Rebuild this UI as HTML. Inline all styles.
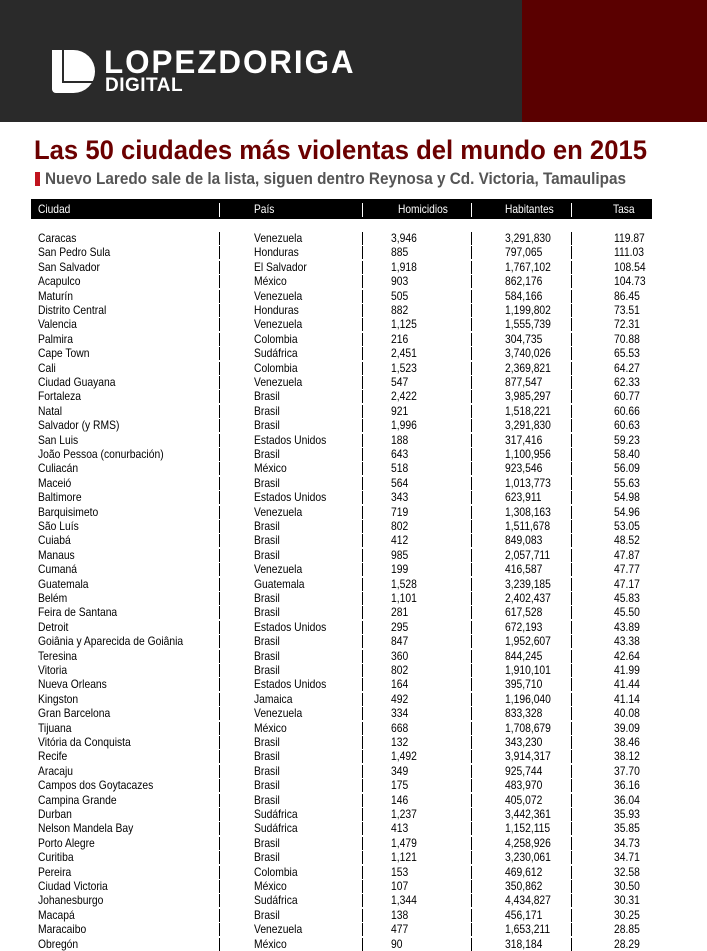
<!DOCTYPE html>
<html><head><meta charset="utf-8">
<style>
*{margin:0;padding:0;box-sizing:border-box}
body{width:707px;height:951px;background:#fff;position:relative;overflow:hidden;font-family:"Liberation Sans",sans-serif}
.hdr{position:absolute;left:0;top:0;width:707px;height:122px;background:#2a2a2a}
.mar{position:absolute;left:522px;top:0;width:185px;height:122px;background:#5a0000}
.logo{position:absolute;left:52px;top:50px;width:43px;height:43px;background:#fff;border-radius:0 22px 22px 4px}
.logo i{position:absolute;left:10px;top:0;width:2px;height:33px;background:#2a2a2a}
.logo b{position:absolute;left:10px;top:31px;width:33px;height:2px;background:#2a2a2a}
.brand{position:absolute;left:104px;top:44px;color:#fff;font-weight:bold;font-size:32px;letter-spacing:2px;transform:scaleX(0.98);transform-origin:left}
.digital{position:absolute;left:105px;top:75px;color:#fff;font-weight:bold;font-size:19px;letter-spacing:.5px}
.title{position:absolute;left:34px;top:135px;color:#6b0000;font-weight:bold;font-size:27px;white-space:nowrap;transform:scaleX(0.95);transform-origin:left}
.sub{position:absolute;left:45px;top:169px;color:#555;font-weight:bold;font-size:17px;white-space:nowrap;transform:scaleX(0.90);transform-origin:left}
.red{position:absolute;left:35px;top:172px;width:5px;height:14px;background:#c0141e}
.th{position:absolute;left:31px;top:199px;width:621px;height:20px;background:#000}
.th span{position:absolute;top:3px;color:#fff;font-size:12px;white-space:nowrap;transform:scaleX(0.85);transform-origin:left}
.th i{position:absolute;top:4px;width:1px;height:14px;background:#fff}
.r{position:absolute;left:0;width:707px;height:14px;font-size:12px;color:#000}
.r span{position:absolute;top:0;white-space:nowrap;transform:scaleX(0.86);transform-origin:left;line-height:14px}
.r i{position:absolute;top:1px;width:1px;height:13px;background:#000}
.a{left:38px}.b{left:254px}.c{left:391px}.d{left:505px}.e{left:614px}
.s1{left:219px}.s2{left:362px}.s3{left:471px}.s4{left:571px}
</style></head><body>
<div class="hdr"></div><div class="mar"></div>
<div class="logo"><i></i><b></b></div>
<div class="brand">LOPEZDORIGA</div>
<div class="digital">DIGITAL</div>
<div class="title">Las 50 ciudades más violentas del mundo en 2015</div>
<div class="red"></div>
<div class="sub">Nuevo Laredo sale de la lista, siguen dentro Reynosa y Cd. Victoria, Tamaulipas</div>
<div class="th"><span style="left:7px">Ciudad</span><i style="left:188px"></i><span style="left:223px">País</span><i style="left:331px"></i><span style="left:367px">Homicidios</span><i style="left:440px"></i><span style="left:474px">Habitantes</span><i style="left:540px"></i><span style="left:582px">Tasa</span></div>

<div class="r" style="top:231px"><span class="a">Caracas</span><i class="s1"></i><span class="b">Venezuela</span><i class="s2"></i><span class="c">3,946</span><i class="s3"></i><span class="d">3,291,830</span><i class="s4"></i><span class="e">119.87</span></div>
<div class="r" style="top:245.4px"><span class="a">San Pedro Sula</span><i class="s1"></i><span class="b">Honduras</span><i class="s2"></i><span class="c">885</span><i class="s3"></i><span class="d">797,065</span><i class="s4"></i><span class="e">111.03</span></div>
<div class="r" style="top:259.8px"><span class="a">San Salvador</span><i class="s1"></i><span class="b">El Salvador</span><i class="s2"></i><span class="c">1,918</span><i class="s3"></i><span class="d">1,767,102</span><i class="s4"></i><span class="e">108.54</span></div>
<div class="r" style="top:274.2px"><span class="a">Acapulco</span><i class="s1"></i><span class="b">México</span><i class="s2"></i><span class="c">903</span><i class="s3"></i><span class="d">862,176</span><i class="s4"></i><span class="e">104.73</span></div>
<div class="r" style="top:288.6px"><span class="a">Maturín</span><i class="s1"></i><span class="b">Venezuela</span><i class="s2"></i><span class="c">505</span><i class="s3"></i><span class="d">584,166</span><i class="s4"></i><span class="e">86.45</span></div>
<div class="r" style="top:303px"><span class="a">Distrito Central</span><i class="s1"></i><span class="b">Honduras</span><i class="s2"></i><span class="c">882</span><i class="s3"></i><span class="d">1,199,802</span><i class="s4"></i><span class="e">73.51</span></div>
<div class="r" style="top:317.4px"><span class="a">Valencia</span><i class="s1"></i><span class="b">Venezuela</span><i class="s2"></i><span class="c">1,125</span><i class="s3"></i><span class="d">1,555,739</span><i class="s4"></i><span class="e">72.31</span></div>
<div class="r" style="top:331.8px"><span class="a">Palmira</span><i class="s1"></i><span class="b">Colombia</span><i class="s2"></i><span class="c">216</span><i class="s3"></i><span class="d">304,735</span><i class="s4"></i><span class="e">70.88</span></div>
<div class="r" style="top:346.2px"><span class="a">Cape Town</span><i class="s1"></i><span class="b">Sudáfrica</span><i class="s2"></i><span class="c">2,451</span><i class="s3"></i><span class="d">3,740,026</span><i class="s4"></i><span class="e">65.53</span></div>
<div class="r" style="top:360.6px"><span class="a">Cali</span><i class="s1"></i><span class="b">Colombia</span><i class="s2"></i><span class="c">1,523</span><i class="s3"></i><span class="d">2,369,821</span><i class="s4"></i><span class="e">64.27</span></div>
<div class="r" style="top:375px"><span class="a">Ciudad Guayana</span><i class="s1"></i><span class="b">Venezuela</span><i class="s2"></i><span class="c">547</span><i class="s3"></i><span class="d">877,547</span><i class="s4"></i><span class="e">62.33</span></div>
<div class="r" style="top:389.4px"><span class="a">Fortaleza</span><i class="s1"></i><span class="b">Brasil</span><i class="s2"></i><span class="c">2,422</span><i class="s3"></i><span class="d">3,985,297</span><i class="s4"></i><span class="e">60.77</span></div>
<div class="r" style="top:403.8px"><span class="a">Natal</span><i class="s1"></i><span class="b">Brasil</span><i class="s2"></i><span class="c">921</span><i class="s3"></i><span class="d">1,518,221</span><i class="s4"></i><span class="e">60.66</span></div>
<div class="r" style="top:418.2px"><span class="a">Salvador (y RMS)</span><i class="s1"></i><span class="b">Brasil</span><i class="s2"></i><span class="c">1,996</span><i class="s3"></i><span class="d">3,291,830</span><i class="s4"></i><span class="e">60.63</span></div>
<div class="r" style="top:432.6px"><span class="a">San Luis</span><i class="s1"></i><span class="b">Estados Unidos</span><i class="s2"></i><span class="c">188</span><i class="s3"></i><span class="d">317,416</span><i class="s4"></i><span class="e">59.23</span></div>
<div class="r" style="top:447px"><span class="a">João Pessoa (conurbación)</span><i class="s1"></i><span class="b">Brasil</span><i class="s2"></i><span class="c">643</span><i class="s3"></i><span class="d">1,100,956</span><i class="s4"></i><span class="e">58.40</span></div>
<div class="r" style="top:461.4px"><span class="a">Culiacán</span><i class="s1"></i><span class="b">México</span><i class="s2"></i><span class="c">518</span><i class="s3"></i><span class="d">923,546</span><i class="s4"></i><span class="e">56.09</span></div>
<div class="r" style="top:475.8px"><span class="a">Maceió</span><i class="s1"></i><span class="b">Brasil</span><i class="s2"></i><span class="c">564</span><i class="s3"></i><span class="d">1,013,773</span><i class="s4"></i><span class="e">55.63</span></div>
<div class="r" style="top:490.2px"><span class="a">Baltimore</span><i class="s1"></i><span class="b">Estados Unidos</span><i class="s2"></i><span class="c">343</span><i class="s3"></i><span class="d">623,911</span><i class="s4"></i><span class="e">54.98</span></div>
<div class="r" style="top:504.6px"><span class="a">Barquisimeto</span><i class="s1"></i><span class="b">Venezuela</span><i class="s2"></i><span class="c">719</span><i class="s3"></i><span class="d">1,308,163</span><i class="s4"></i><span class="e">54.96</span></div>
<div class="r" style="top:519px"><span class="a">São Luís</span><i class="s1"></i><span class="b">Brasil</span><i class="s2"></i><span class="c">802</span><i class="s3"></i><span class="d">1,511,678</span><i class="s4"></i><span class="e">53.05</span></div>
<div class="r" style="top:533.4px"><span class="a">Cuiabá</span><i class="s1"></i><span class="b">Brasil</span><i class="s2"></i><span class="c">412</span><i class="s3"></i><span class="d">849,083</span><i class="s4"></i><span class="e">48.52</span></div>
<div class="r" style="top:547.8px"><span class="a">Manaus</span><i class="s1"></i><span class="b">Brasil</span><i class="s2"></i><span class="c">985</span><i class="s3"></i><span class="d">2,057,711</span><i class="s4"></i><span class="e">47.87</span></div>
<div class="r" style="top:562.2px"><span class="a">Cumaná</span><i class="s1"></i><span class="b">Venezuela</span><i class="s2"></i><span class="c">199</span><i class="s3"></i><span class="d">416,587</span><i class="s4"></i><span class="e">47.77</span></div>
<div class="r" style="top:576.6px"><span class="a">Guatemala</span><i class="s1"></i><span class="b">Guatemala</span><i class="s2"></i><span class="c">1,528</span><i class="s3"></i><span class="d">3,239,185</span><i class="s4"></i><span class="e">47.17</span></div>
<div class="r" style="top:591px"><span class="a">Belém</span><i class="s1"></i><span class="b">Brasil</span><i class="s2"></i><span class="c">1,101</span><i class="s3"></i><span class="d">2,402,437</span><i class="s4"></i><span class="e">45.83</span></div>
<div class="r" style="top:605.4px"><span class="a">Feira de Santana</span><i class="s1"></i><span class="b">Brasil</span><i class="s2"></i><span class="c">281</span><i class="s3"></i><span class="d">617,528</span><i class="s4"></i><span class="e">45.50</span></div>
<div class="r" style="top:619.8px"><span class="a">Detroit</span><i class="s1"></i><span class="b">Estados Unidos</span><i class="s2"></i><span class="c">295</span><i class="s3"></i><span class="d">672,193</span><i class="s4"></i><span class="e">43.89</span></div>
<div class="r" style="top:634.2px"><span class="a">Goiânia y Aparecida de Goiânia</span><i class="s1"></i><span class="b">Brasil</span><i class="s2"></i><span class="c">847</span><i class="s3"></i><span class="d">1,952,607</span><i class="s4"></i><span class="e">43.38</span></div>
<div class="r" style="top:648.6px"><span class="a">Teresina</span><i class="s1"></i><span class="b">Brasil</span><i class="s2"></i><span class="c">360</span><i class="s3"></i><span class="d">844,245</span><i class="s4"></i><span class="e">42.64</span></div>
<div class="r" style="top:663px"><span class="a">Vitoria</span><i class="s1"></i><span class="b">Brasil</span><i class="s2"></i><span class="c">802</span><i class="s3"></i><span class="d">1,910,101</span><i class="s4"></i><span class="e">41.99</span></div>
<div class="r" style="top:677.4px"><span class="a">Nueva Orleans</span><i class="s1"></i><span class="b">Estados Unidos</span><i class="s2"></i><span class="c">164</span><i class="s3"></i><span class="d">395,710</span><i class="s4"></i><span class="e">41.44</span></div>
<div class="r" style="top:691.8px"><span class="a">Kingston</span><i class="s1"></i><span class="b">Jamaica</span><i class="s2"></i><span class="c">492</span><i class="s3"></i><span class="d">1,196,040</span><i class="s4"></i><span class="e">41.14</span></div>
<div class="r" style="top:706.2px"><span class="a">Gran Barcelona</span><i class="s1"></i><span class="b">Venezuela</span><i class="s2"></i><span class="c">334</span><i class="s3"></i><span class="d">833,328</span><i class="s4"></i><span class="e">40.08</span></div>
<div class="r" style="top:720.6px"><span class="a">Tijuana</span><i class="s1"></i><span class="b">México</span><i class="s2"></i><span class="c">668</span><i class="s3"></i><span class="d">1,708,679</span><i class="s4"></i><span class="e">39.09</span></div>
<div class="r" style="top:735px"><span class="a">Vitória da Conquista</span><i class="s1"></i><span class="b">Brasil</span><i class="s2"></i><span class="c">132</span><i class="s3"></i><span class="d">343,230</span><i class="s4"></i><span class="e">38.46</span></div>
<div class="r" style="top:749.4px"><span class="a">Recife</span><i class="s1"></i><span class="b">Brasil</span><i class="s2"></i><span class="c">1,492</span><i class="s3"></i><span class="d">3,914,317</span><i class="s4"></i><span class="e">38.12</span></div>
<div class="r" style="top:763.8px"><span class="a">Aracaju</span><i class="s1"></i><span class="b">Brasil</span><i class="s2"></i><span class="c">349</span><i class="s3"></i><span class="d">925,744</span><i class="s4"></i><span class="e">37.70</span></div>
<div class="r" style="top:778.2px"><span class="a">Campos dos Goytacazes</span><i class="s1"></i><span class="b">Brasil</span><i class="s2"></i><span class="c">175</span><i class="s3"></i><span class="d">483,970</span><i class="s4"></i><span class="e">36.16</span></div>
<div class="r" style="top:792.6px"><span class="a">Campina Grande</span><i class="s1"></i><span class="b">Brasil</span><i class="s2"></i><span class="c">146</span><i class="s3"></i><span class="d">405,072</span><i class="s4"></i><span class="e">36.04</span></div>
<div class="r" style="top:807px"><span class="a">Durban</span><i class="s1"></i><span class="b">Sudáfrica</span><i class="s2"></i><span class="c">1,237</span><i class="s3"></i><span class="d">3,442,361</span><i class="s4"></i><span class="e">35.93</span></div>
<div class="r" style="top:821.4px"><span class="a">Nelson Mandela Bay</span><i class="s1"></i><span class="b">Sudáfrica</span><i class="s2"></i><span class="c">413</span><i class="s3"></i><span class="d">1,152,115</span><i class="s4"></i><span class="e">35.85</span></div>
<div class="r" style="top:835.8px"><span class="a">Porto Alegre</span><i class="s1"></i><span class="b">Brasil</span><i class="s2"></i><span class="c">1,479</span><i class="s3"></i><span class="d">4,258,926</span><i class="s4"></i><span class="e">34.73</span></div>
<div class="r" style="top:850.2px"><span class="a">Curitiba</span><i class="s1"></i><span class="b">Brasil</span><i class="s2"></i><span class="c">1,121</span><i class="s3"></i><span class="d">3,230,061</span><i class="s4"></i><span class="e">34.71</span></div>
<div class="r" style="top:864.6px"><span class="a">Pereira</span><i class="s1"></i><span class="b">Colombia</span><i class="s2"></i><span class="c">153</span><i class="s3"></i><span class="d">469,612</span><i class="s4"></i><span class="e">32.58</span></div>
<div class="r" style="top:879px"><span class="a">Ciudad Victoria</span><i class="s1"></i><span class="b">México</span><i class="s2"></i><span class="c">107</span><i class="s3"></i><span class="d">350,862</span><i class="s4"></i><span class="e">30.50</span></div>
<div class="r" style="top:893.4px"><span class="a">Johanesburgo</span><i class="s1"></i><span class="b">Sudáfrica</span><i class="s2"></i><span class="c">1,344</span><i class="s3"></i><span class="d">4,434,827</span><i class="s4"></i><span class="e">30.31</span></div>
<div class="r" style="top:907.8px"><span class="a">Macapá</span><i class="s1"></i><span class="b">Brasil</span><i class="s2"></i><span class="c">138</span><i class="s3"></i><span class="d">456,171</span><i class="s4"></i><span class="e">30.25</span></div>
<div class="r" style="top:922.2px"><span class="a">Maracaibo</span><i class="s1"></i><span class="b">Venezuela</span><i class="s2"></i><span class="c">477</span><i class="s3"></i><span class="d">1,653,211</span><i class="s4"></i><span class="e">28.85</span></div>
<div class="r" style="top:936.6px"><span class="a">Obregón</span><i class="s1"></i><span class="b">México</span><i class="s2"></i><span class="c">90</span><i class="s3"></i><span class="d">318,184</span><i class="s4"></i><span class="e">28.29</span></div>
</body></html>
